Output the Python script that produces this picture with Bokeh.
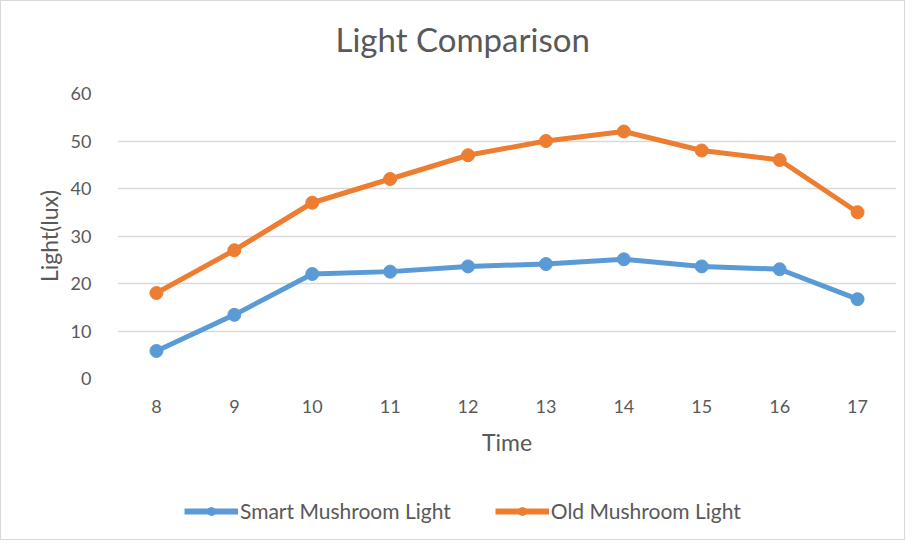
from bokeh.plotting import figure
from bokeh.models import Legend, LegendItem, FixedTicker, Range1d, Title
from bokeh.layouts import column
from bokeh.embed import file_html
from bokeh.resources import INLINE

hours = [8, 9, 10, 11, 12, 13, 14, 15, 16, 17]
smart = [5.8, 13.4, 22.0, 22.5, 23.6, 24.1, 25.1, 23.6, 23.0, 16.7]
old = [18.0, 27.0, 37.0, 42.0, 47.0, 50.0, 52.0, 48.0, 46.0, 35.0]
y_ticks = [0, 10, 20, 30, 40, 50, 60]
title_text = "Light Comparison"
x_label = "Time"
y_label = "Light(lux)"
series_names = ["Smart Mushroom Light", "Old Mushroom Light"]

BLUE = "#5B9BD5"
ORANGE = "#ED7D31"
TXT = "#595959"
FONT = "Lato"

p = figure(width=903, height=478, output_backend="svg", toolbar_location=None,
           x_range=Range1d(7.5, 17.5), y_range=Range1d(0, 60),
           min_border_left=116, min_border_right=8, min_border_top=92, min_border_bottom=101)
p.outline_line_color = None
p.background_fill_color = "white"
p.border_fill_color = "white"

# blank spacer between the plot area and the title
p.add_layout(Title(text=" ", text_font_size="20px", standoff=0), "above")
p.title = Title(text=title_text, align="left", offset=218, standoff=22,
                text_font=FONT, text_font_size="33px", text_color=TXT,
                text_font_style="normal")

p.xgrid.grid_line_color = None
p.ygrid.grid_line_color = "#D9D9D9"
p.ygrid.grid_line_width = 1.5

p.yaxis.ticker = FixedTicker(ticks=y_ticks)
p.xaxis.ticker = FixedTicker(ticks=hours)
for ax in (p.xaxis, p.yaxis):
    ax.axis_line_color = None
    ax.major_tick_line_color = None
    ax.minor_tick_line_color = None
    ax.major_label_text_color = TXT
    ax.major_label_text_font = FONT
    ax.major_label_text_font_size = "18px"
    ax.axis_label_text_color = TXT
    ax.axis_label_text_font = FONT
    ax.axis_label_text_font_size = "23px"
    ax.axis_label_text_font_style = "normal"
p.yaxis.major_label_standoff = 20
p.xaxis.major_label_standoff = 15
p.xaxis.axis_label = x_label
p.yaxis.axis_label = y_label
p.xaxis.axis_label_standoff = 12
p.yaxis.axis_label_standoff = 5

p.line(hours, smart, line_color=BLUE, line_width=5)
p.scatter(hours, smart, size=13, fill_color=BLUE, line_color=BLUE)
p.line(hours, old, line_color=ORANGE, line_width=5)
p.scatter(hours, old, size=13, fill_color=ORANGE, line_color=ORANGE)

# legend strip below the chart (series drawn out of view, only their legend glyphs show)
q = figure(width=903, height=60, output_backend="svg", toolbar_location=None,
           x_range=Range1d(0, 1), y_range=Range1d(0, 1),
           x_axis_location=None, y_axis_location=None,
           min_border_left=0, min_border_right=0, min_border_top=0, min_border_bottom=0)
q.outline_line_color = None
q.xgrid.visible = False
q.ygrid.visible = False
q.border_fill_color = "white"
m1 = q.line(hours, smart, line_color=BLUE, line_width=6)
n1 = q.scatter(hours, smart, size=14, fill_color=BLUE, line_color=BLUE)
m2 = q.line(hours, old, line_color=ORANGE, line_width=6)
n2 = q.scatter(hours, old, size=14, fill_color=ORANGE, line_color=ORANGE)

legend = Legend(items=[LegendItem(label=series_names[0], renderers=[m1, n1]),
                       LegendItem(label=series_names[1], renderers=[m2, n2])],
                orientation="horizontal", location=(67, 16),
                glyph_width=54, glyph_height=20, label_standoff=2, spacing=44,
                padding=0, margin=0, border_line_color=None, background_fill_alpha=0,
                label_text_font=FONT, label_text_font_size="21px", label_text_color=TXT)
q.add_layout(legend, "center")

layout = column(p, q, spacing=0, styles={"border": "1px solid #d9d9d9"})

open("out.html", "w").write(file_html(layout, INLINE))
